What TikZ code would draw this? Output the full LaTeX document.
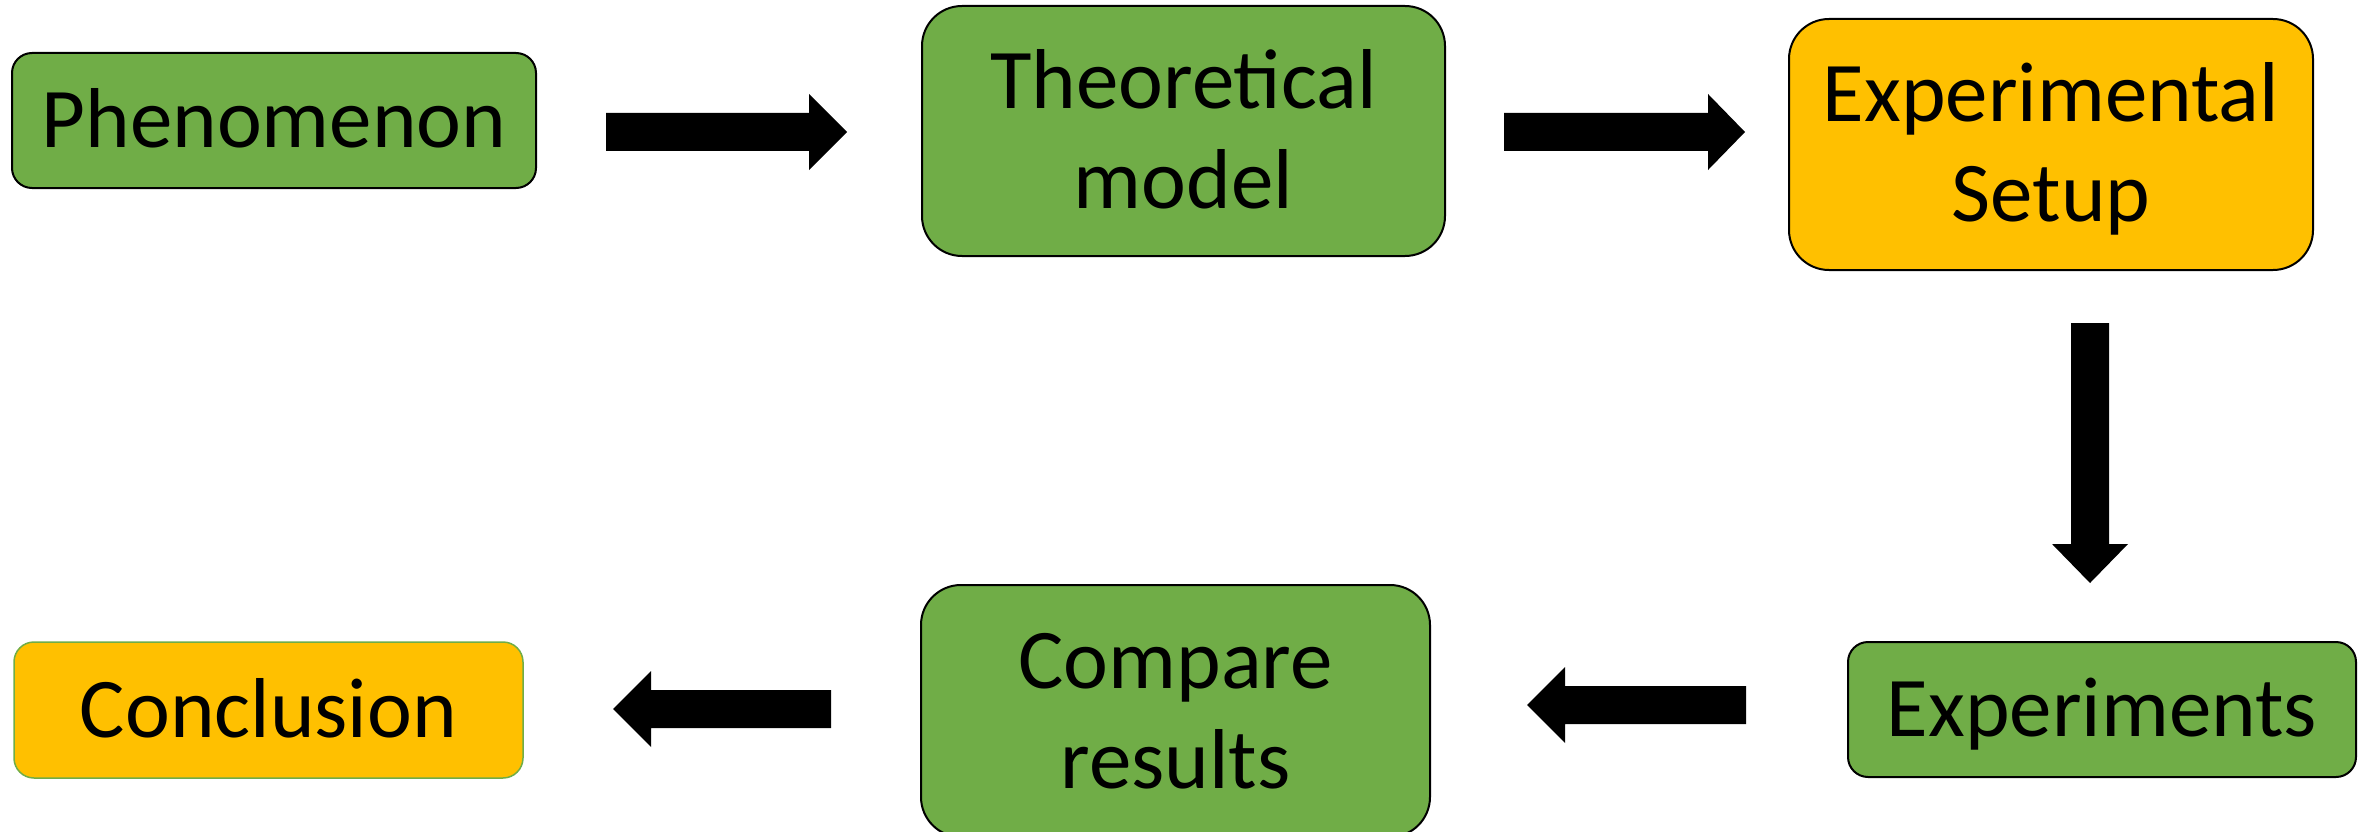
\documentclass[tikz,border=0pt]{standalone}
\usepackage{fontspec}
\setmainfont{Carlito}
\definecolor{gbox}{HTML}{70AD47}
\definecolor{obox}{HTML}{FFC000}
\begin{document}
\begin{tikzpicture}[x=1pt,y=-1pt,
  box/.style={draw=black, line width=2pt, inner sep=0pt, align=center,
    font=\fontsize{85}{100}\selectfont, text depth=0pt},
  one/.style={text height=54pt, rounded corners=20pt},
  two/.style={text height=154pt, rounded corners=40pt},
  green/.style={fill=gbox},
  orange/.style={fill=obox},
  blk/.style={fill=black}]
\useasboundingbox (0,0) rectangle (2369,832);
\begin{scope}
\clip (0,0) rectangle (2369,832);
\node[box,one,green,minimum width=524pt,minimum height=135pt] (phen) at (274,120.5) {Phenomenon};
\node[box,two,green,minimum width=523pt,minimum height=250pt] (theo) at (1183.5,131) {Theoretical\\model};
\node[box,two,orange,minimum width=524pt,minimum height=251pt] (setup) at (2051,144.5) {Experimental\\Setup};
\node[box,one,green,minimum width=508pt,minimum height=135pt] (exper) at (2102,709.5) {Experiments};
\node[box,two,green,minimum width=509pt,minimum height=252pt] (comp) at (1175.5,711) {Compare\\results};
\node[box,one,orange,draw=gbox,line width=1.5pt,minimum width=509pt,minimum height=136pt] (concl) at (268.5,710) {Conclusion};
\end{scope}
% block arrows
\coordinate (a1s) at (606,132);
\coordinate (a1e) at (847,132);
\fill[blk] (a1s) ++(0,-19) -- ++(203,0) -- ++(0,-19) -- (a1e) -- ++(-38,38) -- ++(0,-19) -- ++(-203,0) -- cycle;
\coordinate (a2s) at (1504,132);
\coordinate (a2e) at (1745,132);
\fill[blk] (a2s) ++(0,-19) -- ++(204,0) -- ++(0,-19) -- (a2e) -- ++(-37,38) -- ++(0,-19) -- ++(-204,0) -- cycle;
\coordinate (a3s) at (2090,323);
\coordinate (a3e) at (2090,583);
\fill[blk] (a3s) ++(-19,0) -- ++(0,221) -- ++(-19,0) -- (a3e) -- ++(38,-39) -- ++(-19,0) -- ++(0,-221) -- cycle;
\coordinate (a4s) at (1746,705);
\coordinate (a4e) at (1527,705);
\fill[blk] (a4s) ++(0,-19) -- ++(-181,0) -- ++(0,-19) -- (a4e) -- ++(38,38) -- ++(0,-19) -- ++(181,0) -- cycle;
\coordinate (a5s) at (831,709);
\coordinate (a5e) at (613,709);
\fill[blk] (a5s) ++(0,-19) -- ++(-180,0) -- ++(0,-19) -- (a5e) -- ++(38,38) -- ++(0,-19) -- ++(180,0) -- cycle;
\end{tikzpicture}
\end{document}
